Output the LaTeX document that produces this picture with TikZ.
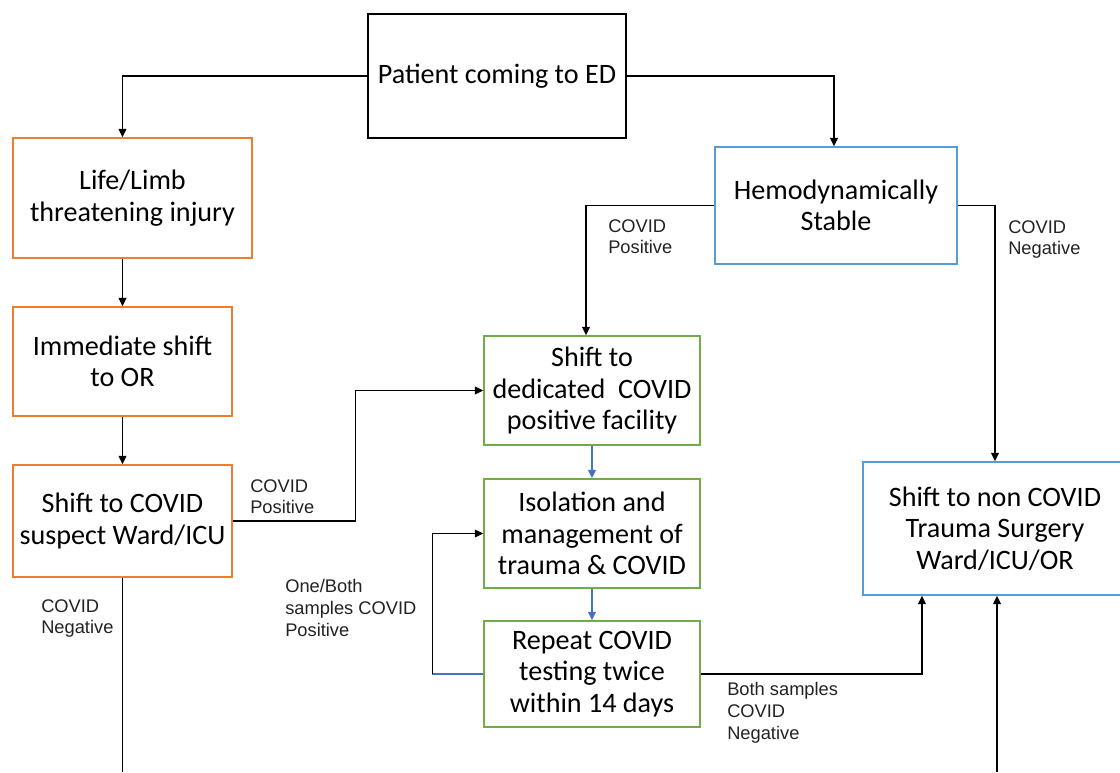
\documentclass[tikz,border=0pt]{standalone}
\usepackage{fontspec}
\setmainfont{Carlito}
\newfontfamily\labelfont{Liberation Sans}
\usetikzlibrary{arrows.meta}

\definecolor{boxorange}{HTML}{ED7D31}
\definecolor{boxblue}{HTML}{5B9BD5}
\definecolor{boxgreen}{HTML}{70AD47}
\definecolor{arrowblue}{HTML}{4472C4}
\definecolor{labelgray}{HTML}{222222}

\tikzset{
  box/.style={shape=rectangle, draw=black, line width=1pt, align=center, inner sep=0pt,
    font=\fontsize{20}{22.5}\selectfont},
  flow/.style={draw=black, line width=1pt, -{Triangle[length=6pt,width=5.5pt]}},
  lbl/.style={anchor=north west, inner sep=0pt, align=left, text=labelgray,
    font=\labelfont\fontsize{13}{15.5}\selectfont}
}

\begin{document}
\begin{tikzpicture}[x=0.025cm,y=-0.025cm]
            \useasboundingbox (0,0) rectangle (1120,772);

            \node[box, minimum width=6.45cm, minimum height=3.1cm] (ED) at (497,76) {Patient coming to ED};
            \node[box, draw=boxorange, minimum width=5.975cm, minimum height=3cm] (life) at (132.5,198) {Life/Limb\\threatening injury};
            \node[box, draw=boxorange, minimum width=5.475cm, minimum height=2.725cm] (imm) at (122.5,361.5) {Immediate shift\\to OR};
            \node[box, draw=boxorange, minimum width=5.475cm, minimum height=2.8cm] (susp) at (122.5,521) {Shift to COVID\\suspect Ward/ICU};
            \node[box, draw=boxblue, minimum width=6.05cm, minimum height=2.925cm] (hemo) at (836,205.5) {Hemodynamically\\Stable};
            \node[box, draw=boxgreen, minimum width=5.4cm, minimum height=2.725cm] (ded) at (592,390.5) {Shift to\\dedicated~ COVID\\positive facility};
            \node[box, draw=boxgreen, minimum width=5.4cm, minimum height=2.725cm] (iso) at (592,533.5) {Isolation and\\management of\\trauma \& COVID};
            \node[box, draw=boxgreen, minimum width=5.4cm, minimum height=2.65cm] (rep) at (592,674) {Repeat COVID\\testing twice\\within 14 days};
            \node[box, draw=boxblue, minimum width=6.6cm, minimum height=3.325cm] (nc) at (995,528.5) {Shift to non COVID\\Trauma Surgery\\Ward/ICU/OR};

            \coordinate (outL) at (122.5,772);
            \coordinate (outR) at (997,772);

            % left branch
            \draw[flow] (ED.west) -| (life.north -| imm.north);
            \draw[flow] (life.south -| imm.north) -- (imm.north);
            \draw[flow] (imm) -- (susp);
            \draw[flow] (susp.east) -- ++(123,0) |- (ded.west);
            \draw[line width=1pt] (susp.south) -- (outL);

            % right branch
            \draw[flow] (ED.east) -| ([xshift=-0.05cm]hemo.north);
            \draw[flow] (hemo.west) -| ([xshift=-0.15cm]ded.north);
            \draw[flow] (hemo.east) -| (nc.north);

            % covid facility
            \draw[flow, draw=arrowblue] (ded) -- (iso);
            \draw[flow, draw=arrowblue] (iso) -- (rep);
            \draw[line width=1pt, arrowblue] (rep.west) -- ++(-51,0) coordinate (loop);
            \draw[flow] (loop) |- (iso.west);
            \draw[flow] (rep.east) -| ([xshift=-1.825cm]nc.south);
            \draw[flow] (outR) -- (outR |- nc.south);

            \node[lbl] (l1) at (608,219) {COVID\\Positive};
            \node[lbl] (l2) at (1008,220) {COVID\\Negative};
            \node[lbl] (l3) at (250,479) {COVID\\Positive};
            \node[lbl] (l4) at (285,579) {One/Both\\samples COVID\\Positive};
            \node[lbl] (l5) at (41,599) {COVID\\Negative};
            \node[lbl] (l6) at (727,682) {Both samples\\COVID\\Negative};

        \end{tikzpicture}
\end{document}
